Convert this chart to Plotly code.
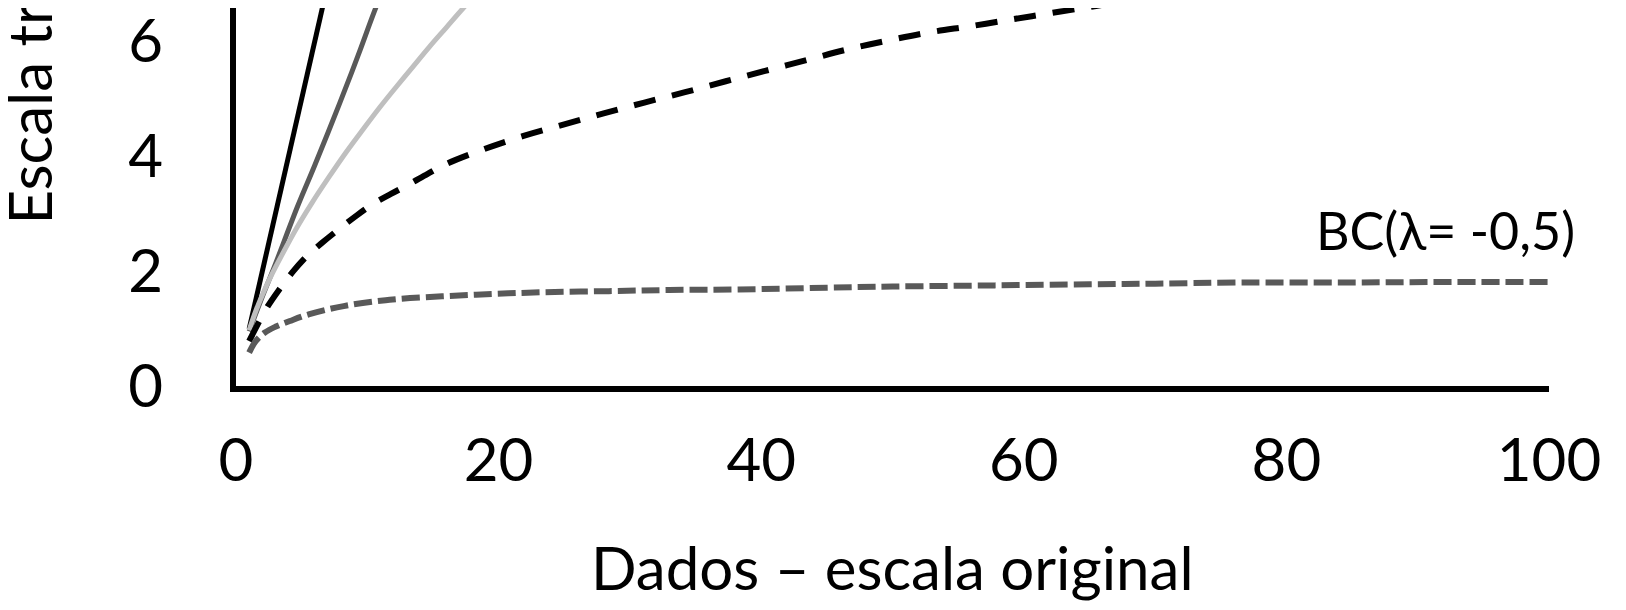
import plotly.graph_objects as go

# ---- data ----
x_ident = [1, 3, 5, 7, 9]
y_ident = [0.99, 3.0, 5.0, 7.0, 9.0]

x_dgray = [1, 2, 3, 4.7, 6, 7.9, 9.3, 10.7, 12.5]
y_dgray = [0.95, 1.55, 2.12, 3.13, 3.84, 4.92, 5.75, 6.61, 7.6]

x_lgray = [1, 1.5, 2, 2.6, 3.5, 4.6, 5.8, 7.1, 8.4, 9.7, 11, 12.2, 13.5, 14.7, 16, 17.3, 19]
y_lgray = [0.97, 1.3, 1.58, 1.88, 2.28, 2.74, 3.19, 3.64, 4.07, 4.47, 4.86, 5.2, 5.56, 5.89, 6.23, 6.57, 6.98]

x_bdash = [1, 1.6, 2.4, 3.3, 4.3, 5.4, 6.5, 7.8, 9.1, 10.4, 11.8, 13.2, 14.6, 16, 18.9, 21.9,
           25, 28, 31.1, 34.2, 37.3, 40.3, 43.5, 46.5, 49.7, 52.8, 56, 59.2, 62.2, 65.5, 70, 76]
y_bdash = [0.78, 1.05, 1.38, 1.68, 1.98, 2.26, 2.48, 2.72, 2.95, 3.16, 3.34, 3.51, 3.69, 3.86, 4.12, 4.35,
           4.55, 4.74, 4.93, 5.11, 5.30, 5.48, 5.67, 5.85, 6.01, 6.15, 6.26, 6.38, 6.49, 6.61, 6.78, 7.0]

x_bc = [1, 1.5, 2.2, 3, 4.1, 5.6, 8.2, 11.7, 15.7, 19.5, 23.3, 28.4, 33, 38.3, 45, 50, 57.8, 65, 70, 76.5, 85, 92, 100]
y_bc = [0.58, 0.78, 0.93, 1.03, 1.13, 1.25, 1.39, 1.50, 1.56, 1.60, 1.63, 1.65, 1.67, 1.68, 1.71, 1.73,
        1.75, 1.77, 1.78, 1.80, 1.80, 1.81, 1.81]

x_ticks = [0, 20, 40, 60, 80, 100]
y_ticks = [0, 2, 4, 6]

x_title = "Dados – escala original"
y_title = "Escala transformada"
bc_label = "BC(λ= -0,5)"

FONT = "Lato"

fig = go.Figure()
fig.add_trace(go.Scatter(x=x_ident, y=y_ident, mode="lines",
                         line=dict(color="#000000", width=5)))
fig.add_trace(go.Scatter(x=x_dgray, y=y_dgray, mode="lines", line_shape="spline",
                         line=dict(color="#595959", width=5)))
fig.add_trace(go.Scatter(x=x_lgray, y=y_lgray, mode="lines", line_shape="spline",
                         line=dict(color="#BFBFBF", width=5)))
fig.add_trace(go.Scatter(x=x_bdash, y=y_bdash, mode="lines", line_shape="spline",
                         line=dict(color="#000000", width=6, dash="22px,17px")))
fig.add_trace(go.Scatter(x=x_bc, y=y_bc, mode="lines", line_shape="spline",
                         line=dict(color="#595959", width=6, dash="18px,6px")))

fig.update_layout(
    width=1626, height=610,
    margin=dict(l=228, r=85, t=0, b=232),
    paper_bgcolor="white", plot_bgcolor="white",
    showlegend=False,
    font=dict(family=FONT, color="black"),
    xaxis=dict(range=[0, 100], tickvals=x_ticks, showgrid=False, zeroline=False,
               showline=True, linecolor="black", linewidth=6, automargin=False,
               ticks="outside", ticklen=17, tickcolor="rgba(0,0,0,0)",
               ticklabeloverflow="allow",
               tickfont=dict(family=FONT, size=60, color="black")),
    yaxis=dict(range=[0, 6.574], tickvals=y_ticks, showgrid=False, zeroline=False,
               showline=True, linecolor="black", linewidth=6, automargin=False,
               ticks="outside", ticklen=55, tickcolor="rgba(0,0,0,0)",
               ticklabeloverflow="allow",
               tickfont=dict(family=FONT, size=60, color="black")),
)

fig.add_annotation(text=x_title, xref="paper", yref="paper", x=0.5, y=-0.478,
                   xanchor="center", yanchor="middle", showarrow=False,
                   font=dict(family=FONT, size=60, color="black"))
fig.add_annotation(text=y_title, xref="paper", yref="paper", x=-0.1577, y=0.423,
                   xanchor="center", yanchor="bottom", textangle=-90, showarrow=False,
                   font=dict(family=FONT, size=60, color="black"))
fig.add_annotation(text=bc_label, xref="paper", yref="paper", x=0.921, y=0.413,
                   xanchor="center", yanchor="middle", showarrow=False,
                   font=dict(family=FONT, size=52, color="black"))

fig.write_html("out.html")
